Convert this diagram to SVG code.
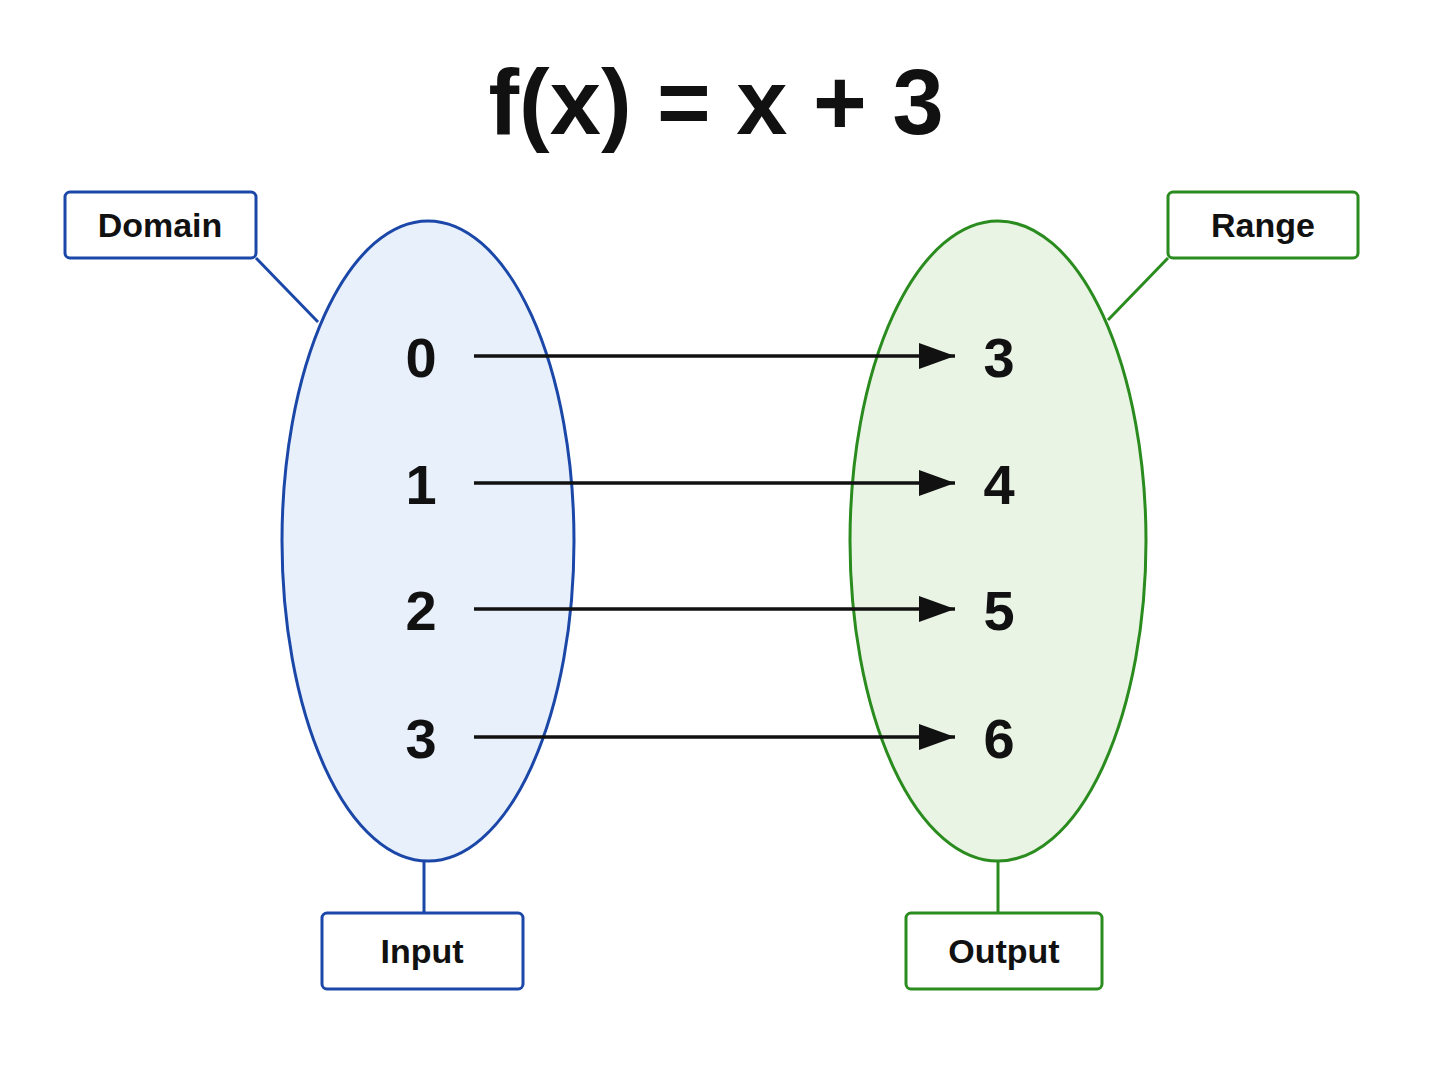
<svg xmlns="http://www.w3.org/2000/svg" width="1448" height="1086" viewBox="0 0 1448 1086">
<style>
text{font-family:"Liberation Sans",Arial,sans-serif;font-weight:bold;fill:#111;text-anchor:middle}
.num{font-size:56px}
.lbl{font-size:34px}
.b{stroke:#1b48a8;stroke-width:3;fill:none}
.g{stroke:#2a8c1e;stroke-width:3;fill:none}
.box{fill:#fff;stroke-width:3}
.arr{stroke:#111;stroke-width:3.5;fill:none;marker-end:url(#ah)}
</style>
<defs>
<marker id="ah" viewBox="0 0 36 26" refX="36" refY="13" markerWidth="36" markerHeight="26" markerUnits="userSpaceOnUse" orient="auto"><path d="M0,0L36,13L0,26z" fill="#111"/></marker></defs>
<rect width="1448" height="1086" fill="#fff"/>
<text x="716" y="134" style="font-size:92px">f(x) = x + 3</text>
<g id="leftSet"><ellipse cx="428" cy="541" rx="146" ry="320" class="b" style="fill:#e8f0fc"/></g>
<g id="rightSet"><ellipse cx="998" cy="541" rx="148" ry="320" class="g" style="fill:#eaf4e4"/></g>
<g id="connectors">
<line class="b" x1="256" y1="258" x2="318" y2="322"/>
<line class="g" x1="1168" y1="258" x2="1108" y2="320"/>
<line class="b" x1="424" y1="862" x2="424" y2="913"/>
<line class="g" x1="998" y1="862" x2="998" y2="913"/>
<line class="arr" x1="474" y1="356" x2="955" y2="356"/>
<line class="arr" x1="474" y1="483" x2="955" y2="483"/>
<line class="arr" x1="474" y1="609" x2="955" y2="609"/>
<line class="arr" x1="474" y1="737" x2="955" y2="737"/>
</g>
<g id="inputs">
<text class="num" x="421" y="377">0</text>
<text class="num" x="421" y="504">1</text>
<text class="num" x="421" y="630">2</text>
<text class="num" x="421" y="758">3</text>
</g>
<g id="outputs">
<text class="num" x="999" y="377">3</text>
<text class="num" x="999" y="504">4</text>
<text class="num" x="999" y="630">5</text>
<text class="num" x="999" y="758">6</text>
</g>
<g id="domain"><rect class="box" x="65" y="192" width="191" height="66" rx="5" stroke="#1b48a8"/><text class="lbl" x="160" y="237">Domain</text></g>
<g id="range"><rect class="box" x="1168" y="192" width="190" height="66" rx="5" stroke="#2a8c1e"/><text class="lbl" x="1263" y="237">Range</text></g>
<g id="input"><rect class="box" x="322" y="913" width="201" height="76" rx="5" stroke="#1b48a8"/><text class="lbl" x="422" y="963">Input</text></g>
<g id="output"><rect class="box" x="906" y="913" width="196" height="76" rx="5" stroke="#2a8c1e"/><text class="lbl" x="1004" y="963">Output</text></g>
</svg>
